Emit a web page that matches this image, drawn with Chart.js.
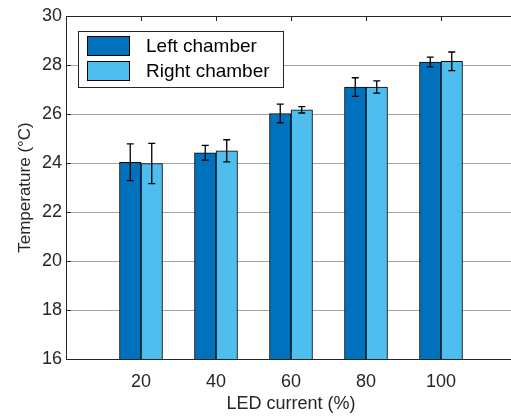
<!DOCTYPE html>
<html>
<head>
<meta charset="utf-8">
<script src="https://cdn.jsdelivr.net/npm/chart.js@4.4.1/dist/chart.umd.min.js"></script>
<style>
  html, body { margin: 0; padding: 0; background: #fff; overflow: hidden; }
  canvas { display: block; }
</style>
</head>
<body>
<canvas id="chart" width="528" height="418"></canvas>
<script>
const currents = [20, 40, 60, 80, 100];
const leftTemp = [24.03, 24.42, 26.02, 27.1, 28.12];
const leftErr = [0.75, 0.3, 0.38, 0.38, 0.2];
const rightTemp = [23.98, 24.5, 26.17, 27.1, 28.15];
const rightErr = [0.82, 0.45, 0.13, 0.25, 0.38];
const yTicks = [16, 18, 20, 22, 24, 26, 28, 30];

const AXIS = "#262626";
const FONT = "'Liberation Sans', Arial, sans-serif";

// error bars, frame ticks and the boxed legend
const extras = {
    id: "extras",
    afterDatasetsDraw(chart) {
        const ctx = chart.ctx;
        const y = chart.scales.y;
        ctx.save();
        ctx.strokeStyle = "#000";
        ctx.lineWidth = 1.3;
        chart.data.datasets.forEach((ds, i) => {
            chart.getDatasetMeta(i).data.forEach((bar, j) => {
                const v = ds.data[j].y, e = ds.errors[j];
                const top = y.getPixelForValue(v + e);
                const bot = y.getPixelForValue(v - e);
                ctx.beginPath();
                ctx.moveTo(bar.x, top); ctx.lineTo(bar.x, bot);
                ctx.moveTo(bar.x - 3.5, top); ctx.lineTo(bar.x + 3.5, top);
                ctx.moveTo(bar.x - 3.5, bot); ctx.lineTo(bar.x + 3.5, bot);
                ctx.stroke();
            });
        });
        ctx.restore();
    },
    afterDraw(chart) {
        const ctx = chart.ctx;
        const a = chart.chartArea;
        const x = chart.scales.x, y = chart.scales.y;
        ctx.save();
        ctx.strokeStyle = AXIS;
        ctx.lineWidth = 1;
        ctx.beginPath();
        ctx.moveTo(a.left, a.top + 0.5); ctx.lineTo(a.right, a.top + 0.5);
        currents.forEach(c => {
            const px = Math.round(x.getPixelForValue(c)) + 0.5;
            ctx.moveTo(px, a.top); ctx.lineTo(px, a.top + 5);
        });
        yTicks.forEach(t => {
            const py = Math.round(y.getPixelForValue(t)) + 0.5;
            ctx.moveTo(a.left, py); ctx.lineTo(a.left + 5, py);
        });
        ctx.stroke();

        // legend
        ctx.fillStyle = "#fff";
        ctx.fillRect(78, 31, 205, 56);
        ctx.strokeRect(78.5, 31.5, 205, 56);
        ctx.font = "19px " + FONT;
        ctx.textBaseline = "middle";
        chart.data.datasets.forEach((ds, i) => {
            const top = 36 + i * 25;
            ctx.fillStyle = ds.backgroundColor;
            ctx.fillRect(87, top, 42, 19);
            ctx.strokeStyle = "#000";
            ctx.strokeRect(87.5, top + 0.5, 42, 19);
            ctx.fillStyle = "#000";
            ctx.fillText(ds.label, 146, top + 11);
        });
        ctx.restore();
    }
};

new Chart(document.getElementById("chart"), {
    type: "bar",
    data: {
        datasets: [
            {
                label: "Left chamber",
                data: currents.map((c, i) => ({ x: c, y: leftTemp[i] })),
                errors: leftErr,
                backgroundColor: "#0072BD",
                borderColor: "#000",
                borderWidth: 1,
            },
            {
                label: "Right chamber",
                data: currents.map((c, i) => ({ x: c, y: rightTemp[i] })),
                errors: rightErr,
                backgroundColor: "#4DBEEE",
                borderColor: "#000",
                borderWidth: 1,
            },
        ],
    },
    options: {
        responsive: false,
        animation: false,
        devicePixelRatio: 1,
        barThickness: 21.5,
        layout: { padding: { top: 16, right: 6, left: 0, bottom: 0 } },
        plugins: { legend: { display: false }, tooltip: { enabled: false } },
        scales: {
            x: {
                type: "linear",
                offset: false,
                min: 0,
                max: 120,
                afterFit: s => { s.height = 59; },
                grid: { display: false, drawTicks: false, offset: false },
                border: { color: AXIS, width: 1 },
                ticks: {
                    stepSize: 20,
                    padding: 12,
                    color: AXIS,
                    font: { family: FONT, size: 18 },
                    callback: v => (v === 0 || v === 120 ? "" : v),
                },
                title: {
                    display: true,
                    text: "LED current (%)",
                    color: AXIS,
                    font: { family: FONT, size: 18 },
                    padding: { top: 0, bottom: 3 },
                },
            },
            y: {
                min: 16,
                max: 30,
                afterFit: s => { s.width = 66; },
                grid: { color: "#a6a6a6", drawTicks: false },
                border: { color: AXIS, width: 1 },
                ticks: {
                    stepSize: 2,
                    padding: 4,
                    color: AXIS,
                    font: { family: FONT, size: 18 },
                },
                title: {
                    display: true,
                    text: "Temperature (°C)",
                    color: AXIS,
                    font: { family: FONT, size: 17 },
                    padding: { top: 15, bottom: 0 },
                },
            },
        },
    },
    plugins: [extras],
});
</script>
</body>
</html>
